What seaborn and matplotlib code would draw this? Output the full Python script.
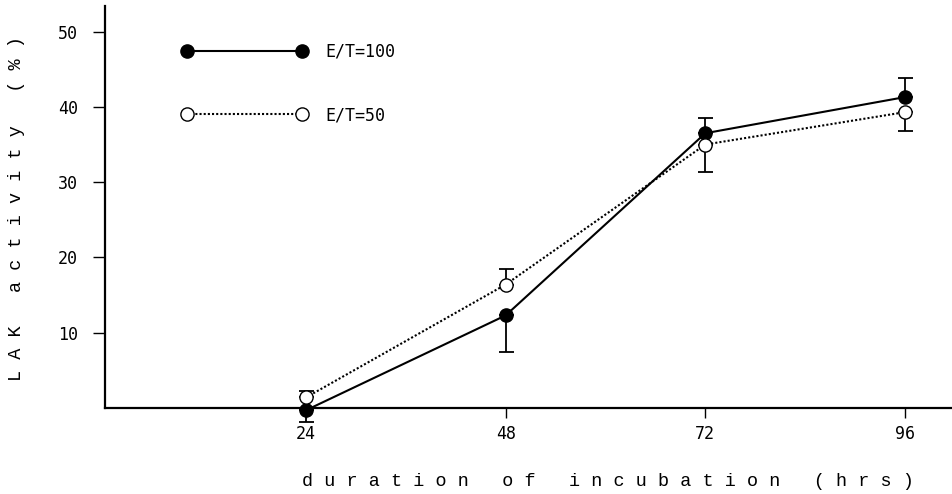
import numpy as np
import pandas as pd
import matplotlib
matplotlib.use("Agg")
import matplotlib.pyplot as plt
import seaborn as sns

# ---- data ----
hours = [24, 48, 72, 96]
et100 = [-0.3, 12.3, 36.5, 41.3]
et50 = [1.4, 16.4, 35.0, 39.3]
# error bar ends (one-sided); None where no bar is drawn
et100_low = [-1.8, 7.4, None, None]
et100_high = [None, None, 38.5, 43.8]
et50_low = [None, None, 31.3, 36.8]
et50_high = [2.2, 18.4, None, None]
yticks = [10, 20, 30, 40, 50]
xticks = [24, 48, 72, 96]
labels = ["E/T=100", "E/T=50"]

sns.set_theme(style="white")
plt.rcParams["font.family"] = ["DejaVu Sans Mono", "DejaVu Sans"]
plt.rcParams["text.color"] = "black"
plt.rcParams["axes.labelcolor"] = "black"

fig = plt.figure(figsize=(9.52, 4.94), dpi=100)
ax = fig.add_axes([105 / 952, 86 / 494, 847 / 952, 402 / 494])

df = pd.DataFrame({
    "hours": hours * 2,
    "activity": et100 + et50,
    "series": [labels[0]] * 4 + [labels[1]] * 4,
})

styles = {
    labels[0]: dict(linestyle="-", markerfacecolor="black", markeredgecolor="black"),
    labels[1]: dict(linestyle=(0, (1, 1)), markerfacecolor="white", markeredgecolor="black"),
}

def draw_err(vals, lows, highs):
    for x, v, lo, hi in zip(hours, vals, lows, highs):
        for end in (lo, hi):
            if end is None:
                continue
            if end < v:
                yerr = [[v - end], [0]]
            else:
                yerr = [[0], [end - v]]
            ax.errorbar([x], [v], yerr=yerr, fmt="none", ecolor="black",
                        elinewidth=1.3, capsize=5.4, capthick=1.3, zorder=2,
                        clip_on=False)

draw_err(et100, et100_low, et100_high)
draw_err(et50, et50_low, et50_high)

for lab in labels:
    sub = df[df["series"] == lab]
    sns.lineplot(data=sub, x="hours", y="activity", ax=ax, color="black",
                 marker="o", markersize=9.5, markeredgewidth=1.0, linewidth=1.5,
                 label=lab, legend=False, clip_on=False, zorder=3,
                 **styles[lab])

ax.set_xlim(-0.16, 101.65)
ax.set_ylim(0, 53.4)
ax.set_xticks(xticks)
ax.set_yticks(yticks)
ax.set_xticklabels([str(t) for t in xticks])
ax.set_yticklabels([str(t) for t in yticks])

for side in ("top", "right"):
    ax.spines[side].set_visible(False)
for side in ("left", "bottom"):
    ax.spines[side].set_linewidth(1.6)
    ax.spines[side].set_color("black")

ax.tick_params(axis="y", direction="out", length=8.6, width=1.0, pad=11,
               labelsize=12, colors="black", left=True)
ax.tick_params(axis="x", direction="out", length=7.2, width=1.0, pad=5,
               labelsize=12, colors="black", bottom=True)

xl = "d u r a t i o n   o f   i n c u b a t i o n   ( h r s )"
yl = "L A K   a c t i v i t y   ( % )"
ax.set_xlabel(xl, fontsize=13.3, family=["Liberation Mono", "DejaVu Sans Mono"],
              va="center", ha="center", color="black")
ax.set_ylabel(yl, fontsize=13.3, family=["Liberation Mono", "DejaVu Sans Mono"],
              va="center", ha="center", color="black")
ax.xaxis.set_label_coords((608 - 105) / 847, (408 - 481) / 402)
ax.yaxis.set_label_coords((17 - 105) / 847, (408 - 209) / 402)

leg = ax.legend(loc="upper left", bbox_to_anchor=(0.091, 0.909), frameon=False,
                numpoints=2, handlelength=7.5, handletextpad=1.08,
                labelspacing=2.73, borderpad=0, borderaxespad=0,
                prop={"family": "DejaVu Sans Mono", "size": 12})
for t in leg.get_texts():
    t.set_color("black")

fig.savefig("out.png", dpi=100)
